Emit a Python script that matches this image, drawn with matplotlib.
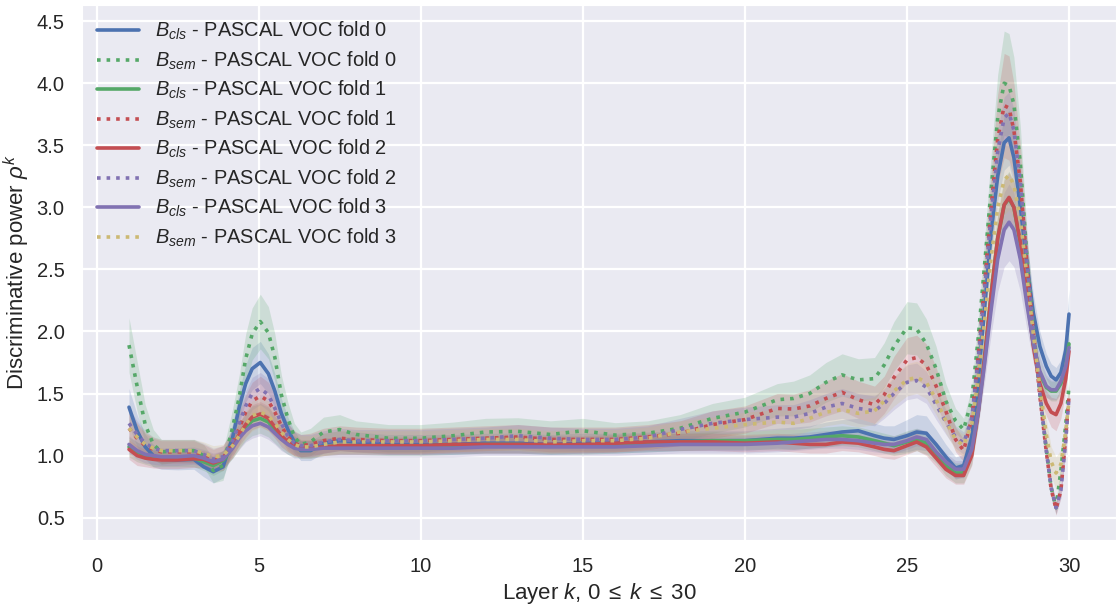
import numpy as np
import matplotlib
matplotlib.use('Agg')
import matplotlib.pyplot as plt
import seaborn as sns

sns.set_style('darkgrid')
plt.rcParams['font.family'] = ['Liberation Sans', 'DejaVu Sans']
plt.rcParams['mathtext.fontset'] = 'custom'
plt.rcParams['mathtext.rm'] = 'Liberation Sans'
plt.rcParams['mathtext.it'] = 'Liberation Sans:italic'
plt.rcParams['mathtext.bf'] = 'Liberation Sans:bold'

layers = [1, 1.25, 1.5, 1.75, 2, 2.5, 3, 3.3, 3.6, 3.9,
          4.2, 4.4, 4.6, 4.8, 5.05, 5.3, 5.5, 5.7, 5.9, 6.1,
          6.3, 6.6, 7, 7.5, 8, 9, 10, 11, 12, 13, 14, 15, 16, 17, 18,
          19, 20, 21, 21.5, 22, 22.5, 23, 23.5, 24, 24.3, 24.6, 25, 25.3, 25.6, 25.9,
          26.2, 26.5, 26.75, 27, 27.2, 27.4, 27.6, 27.8, 28, 28.15,
          28.3, 28.5, 28.7, 28.9, 29.1, 29.3, 29.45, 29.6, 29.75, 29.9, 30]

# mean discriminative power
cls_fold0 = [1.39, 1.20, 1.07, 1.00, 0.97, 0.965, 0.97, 0.91, 0.87, 0.91,
             1.15, 1.39, 1.58, 1.70, 1.75, 1.66, 1.52, 1.34, 1.21, 1.11,
             1.04, 1.04, 1.10, 1.12, 1.11, 1.09, 1.09, 1.09, 1.10, 1.10, 1.09, 1.10, 1.10, 1.11, 1.12,
             1.12, 1.12, 1.14, 1.14, 1.15, 1.17, 1.19, 1.20, 1.16, 1.14, 1.13, 1.16, 1.19, 1.18, 1.09,
             0.99, 0.90, 0.92, 1.15, 1.60, 2.20, 2.80, 3.25, 3.52, 3.56,
             3.40, 3.00, 2.55, 2.15, 1.88, 1.72, 1.64, 1.61, 1.67, 1.85, 2.14]
sem_fold0 = [1.89, 1.56, 1.25, 1.09, 1.03, 1.04, 1.04, 1.00, 0.88, 0.92,
             1.23, 1.47, 1.78, 1.98, 2.08, 1.99, 1.79, 1.49, 1.30, 1.15,
             1.09, 1.11, 1.19, 1.21, 1.17, 1.14, 1.14, 1.16, 1.19, 1.195, 1.17, 1.20, 1.165, 1.18, 1.22,
             1.30, 1.35, 1.45, 1.46, 1.50, 1.59, 1.65, 1.61, 1.62, 1.73, 1.88, 2.03, 2.02, 1.90, 1.70,
             1.44, 1.28, 1.21, 1.45, 1.95, 2.55, 3.15, 3.72, 4.00, 3.98,
             3.83, 3.35, 2.60, 2.03, 1.50, 1.05, 0.74, 0.58, 0.88, 1.25, 1.56]
cls_fold1 = [1.07, 1.03, 1.00, 0.98, 0.98, 0.98, 0.98, 0.95, 0.92, 0.96,
             1.07, 1.16, 1.23, 1.28, 1.30, 1.27, 1.21, 1.15, 1.10, 1.07,
             1.05, 1.05, 1.07, 1.08, 1.08, 1.07, 1.07, 1.08, 1.09, 1.09, 1.08, 1.08, 1.09, 1.10, 1.11,
             1.12, 1.12, 1.13, 1.13, 1.14, 1.15, 1.16, 1.15, 1.12, 1.10, 1.08, 1.11, 1.13, 1.10, 1.02,
             0.92, 0.86, 0.86, 1.02, 1.36, 1.81, 2.31, 2.75, 3.02, 3.07,
             3.00, 2.70, 2.28, 1.90, 1.66, 1.55, 1.52, 1.52, 1.58, 1.71, 1.90]
sem_fold1 = [1.22, 1.14, 1.08, 1.05, 1.03, 1.03, 1.03, 1.00, 0.96, 0.98,
             1.10, 1.22, 1.35, 1.44, 1.48, 1.44, 1.35, 1.24, 1.15, 1.10,
             1.08, 1.09, 1.12, 1.14, 1.13, 1.12, 1.12, 1.13, 1.14, 1.15, 1.13, 1.13, 1.13, 1.15, 1.18,
             1.25, 1.29, 1.38, 1.375, 1.40, 1.46, 1.51, 1.45, 1.41, 1.49, 1.63, 1.77, 1.79, 1.73, 1.56,
             1.36, 1.13, 1.04, 1.30, 1.80, 2.40, 3.00, 3.55, 3.82, 3.80,
             3.62, 3.20, 2.55, 2.00, 1.48, 1.03, 0.73, 0.57, 0.72, 1.15, 1.48]
cls_fold2 = [1.05, 1.00, 0.98, 0.97, 0.965, 0.965, 0.975, 0.97, 0.94, 0.97,
             1.08, 1.17, 1.25, 1.31, 1.335, 1.30, 1.23, 1.16, 1.11, 1.08,
             1.06, 1.06, 1.07, 1.08, 1.08, 1.08, 1.08, 1.09, 1.09, 1.09, 1.09, 1.09, 1.10, 1.11, 1.11,
             1.11, 1.10, 1.11, 1.10, 1.09, 1.09, 1.11, 1.10, 1.07, 1.05, 1.04, 1.08, 1.11, 1.07, 0.98,
             0.89, 0.84, 0.84, 1.00, 1.35, 1.80, 2.30, 2.75, 3.02, 3.08,
             3.00, 2.72, 2.30, 1.88, 1.58, 1.42, 1.35, 1.33, 1.42, 1.62, 1.84]
sem_fold2 = [1.26, 1.17, 1.10, 1.06, 1.04, 1.04, 1.04, 1.01, 0.97, 0.99,
             1.12, 1.26, 1.40, 1.50, 1.54, 1.49, 1.38, 1.26, 1.16, 1.10,
             1.08, 1.08, 1.11, 1.13, 1.12, 1.12, 1.12, 1.13, 1.14, 1.16, 1.14, 1.13, 1.13, 1.15, 1.21,
             1.26, 1.29, 1.31, 1.31, 1.34, 1.39, 1.42, 1.38, 1.36, 1.42, 1.50, 1.59, 1.605, 1.55, 1.41,
             1.27, 1.15, 1.10, 1.30, 1.78, 2.35, 2.95, 3.45, 3.72, 3.76,
             3.62, 3.20, 2.58, 2.00, 1.50, 1.04, 0.74, 0.58, 0.72, 1.12, 1.47]
cls_fold3 = [1.09, 1.04, 1.01, 1.00, 0.99, 0.99, 1.00, 0.98, 0.95, 0.97,
             1.06, 1.14, 1.20, 1.24, 1.26, 1.23, 1.18, 1.13, 1.09, 1.06,
             1.05, 1.05, 1.06, 1.06, 1.06, 1.06, 1.06, 1.06, 1.07, 1.07, 1.07, 1.07, 1.07, 1.08, 1.09,
             1.09, 1.09, 1.10, 1.11, 1.12, 1.13, 1.13, 1.12, 1.10, 1.09, 1.09, 1.12, 1.15, 1.13, 1.03,
             0.95, 0.89, 0.89, 1.05, 1.35, 1.75, 2.18, 2.58, 2.82, 2.88,
             2.82, 2.58, 2.22, 1.90, 1.68, 1.56, 1.53, 1.53, 1.60, 1.72, 1.87]
sem_fold3 = [1.22, 1.15, 1.09, 1.06, 1.04, 1.04, 1.04, 1.02, 0.99, 1.00,
             1.08, 1.16, 1.25, 1.32, 1.35, 1.32, 1.26, 1.19, 1.13, 1.09,
             1.07, 1.07, 1.09, 1.11, 1.11, 1.11, 1.11, 1.12, 1.13, 1.13, 1.11, 1.12, 1.12, 1.14, 1.19,
             1.22, 1.25, 1.27, 1.26, 1.30, 1.35, 1.37, 1.34, 1.36, 1.44, 1.52, 1.61, 1.63, 1.59, 1.45,
             1.28, 1.13, 1.08, 1.25, 1.62, 2.10, 2.60, 3.00, 3.22, 3.26,
             3.18, 2.90, 2.45, 1.98, 1.55, 1.17, 0.95, 0.86, 0.93, 1.20, 1.44]

# half width of the shaded spread around each mean
spread_cls_fold0 = [0.15, 0.13, 0.10, 0.09, 0.08, 0.08, 0.08, 0.08, 0.09, 0.09,
                    0.11, 0.13, 0.15, 0.17, 0.17, 0.16, 0.14, 0.12, 0.10, 0.09,
                    0.08, 0.08, 0.08, 0.08, 0.08, 0.08, 0.08, 0.08, 0.08, 0.08, 0.08, 0.08, 0.08, 0.08, 0.08,
                    0.08, 0.08, 0.08, 0.09, 0.09, 0.10, 0.10, 0.10, 0.10, 0.10, 0.11, 0.13, 0.14, 0.14, 0.12,
                    0.10, 0.09, 0.09, 0.10, 0.12, 0.15, 0.18, 0.20, 0.22, 0.22,
                    0.22, 0.20, 0.18, 0.15, 0.12, 0.10, 0.10, 0.10, 0.10, 0.14, 0.20]
spread_sem_fold0 = [0.22, 0.20, 0.16, 0.12, 0.10, 0.09, 0.09, 0.09, 0.10, 0.12,
                    0.15, 0.18, 0.20, 0.21, 0.22, 0.21, 0.19, 0.16, 0.13, 0.11,
                    0.10, 0.11, 0.12, 0.12, 0.11, 0.11, 0.11, 0.11, 0.11, 0.11, 0.11, 0.10, 0.10, 0.10, 0.11,
                    0.12, 0.12, 0.13, 0.14, 0.15, 0.16, 0.17, 0.17, 0.17, 0.18, 0.20, 0.21, 0.21, 0.20, 0.18,
                    0.14, 0.10, 0.09, 0.10, 0.15, 0.20, 0.28, 0.35, 0.42, 0.42,
                    0.38, 0.30, 0.22, 0.15, 0.10, 0.07, 0.06, 0.05, 0.06, 0.08, 0.10]
spread_cls_fold1 = [0.08, 0.08, 0.07, 0.07, 0.07, 0.07, 0.07, 0.07, 0.08, 0.08,
                    0.09, 0.10, 0.11, 0.12, 0.12, 0.12, 0.11, 0.10, 0.09, 0.08,
                    0.07, 0.07, 0.07, 0.07, 0.07, 0.07, 0.07, 0.07, 0.07, 0.07, 0.07, 0.07, 0.07, 0.07, 0.07,
                    0.07, 0.07, 0.08, 0.08, 0.08, 0.08, 0.08, 0.08, 0.08, 0.08, 0.08, 0.09, 0.09, 0.09, 0.08,
                    0.08, 0.08, 0.08, 0.09, 0.11, 0.14, 0.17, 0.20, 0.22, 0.22,
                    0.21, 0.19, 0.16, 0.13, 0.10, 0.08, 0.08, 0.08, 0.08, 0.10, 0.12]
spread_sem_fold1 = [0.14, 0.12, 0.10, 0.09, 0.09, 0.09, 0.09, 0.09, 0.09, 0.10,
                    0.11, 0.13, 0.14, 0.15, 0.16, 0.15, 0.14, 0.12, 0.11, 0.10,
                    0.09, 0.09, 0.10, 0.10, 0.10, 0.10, 0.10, 0.10, 0.10, 0.10, 0.10, 0.10, 0.10, 0.10, 0.10,
                    0.11, 0.11, 0.12, 0.12, 0.13, 0.14, 0.15, 0.15, 0.15, 0.15, 0.17, 0.18, 0.18, 0.17, 0.15,
                    0.12, 0.10, 0.09, 0.10, 0.15, 0.20, 0.28, 0.36, 0.42, 0.42,
                    0.38, 0.30, 0.22, 0.15, 0.10, 0.07, 0.06, 0.05, 0.06, 0.08, 0.10]
spread_cls_fold2 = [0.08, 0.08, 0.07, 0.07, 0.07, 0.07, 0.07, 0.07, 0.07, 0.07,
                    0.08, 0.09, 0.10, 0.10, 0.10, 0.10, 0.09, 0.09, 0.08, 0.08,
                    0.07, 0.07, 0.07, 0.07, 0.07, 0.07, 0.07, 0.07, 0.07, 0.07, 0.07, 0.07, 0.07, 0.07, 0.07,
                    0.07, 0.07, 0.07, 0.07, 0.07, 0.07, 0.07, 0.07, 0.07, 0.07, 0.07, 0.07, 0.07, 0.07, 0.07,
                    0.07, 0.07, 0.07, 0.08, 0.10, 0.13, 0.16, 0.18, 0.20, 0.20,
                    0.20, 0.18, 0.15, 0.12, 0.10, 0.10, 0.12, 0.13, 0.12, 0.10, 0.10]
spread_sem_fold2 = [0.12, 0.11, 0.10, 0.09, 0.09, 0.09, 0.09, 0.09, 0.09, 0.09,
                    0.10, 0.11, 0.12, 0.13, 0.13, 0.13, 0.12, 0.11, 0.10, 0.09,
                    0.09, 0.09, 0.09, 0.09, 0.09, 0.09, 0.09, 0.09, 0.09, 0.09, 0.09, 0.09, 0.09, 0.09, 0.09,
                    0.10, 0.10, 0.10, 0.10, 0.11, 0.11, 0.12, 0.12, 0.12, 0.12, 0.13, 0.14, 0.14, 0.13, 0.12,
                    0.10, 0.09, 0.09, 0.10, 0.12, 0.14, 0.16, 0.17, 0.17, 0.17,
                    0.17, 0.15, 0.13, 0.11, 0.09, 0.07, 0.06, 0.05, 0.06, 0.08, 0.10]
spread_cls_fold3 = [0.07, 0.07, 0.07, 0.07, 0.07, 0.07, 0.07, 0.07, 0.07, 0.07,
                    0.08, 0.09, 0.09, 0.10, 0.10, 0.10, 0.09, 0.09, 0.08, 0.08,
                    0.07, 0.07, 0.07, 0.07, 0.07, 0.07, 0.07, 0.07, 0.07, 0.07, 0.07, 0.07, 0.07, 0.07, 0.07,
                    0.07, 0.07, 0.07, 0.07, 0.07, 0.07, 0.07, 0.07, 0.07, 0.07, 0.07, 0.07, 0.07, 0.07, 0.07,
                    0.07, 0.07, 0.07, 0.08, 0.11, 0.15, 0.20, 0.26, 0.30, 0.31,
                    0.30, 0.26, 0.20, 0.15, 0.11, 0.09, 0.08, 0.08, 0.08, 0.08, 0.08]
spread_sem_fold3 = [0.12, 0.11, 0.10, 0.09, 0.09, 0.09, 0.09, 0.09, 0.09, 0.09,
                    0.10, 0.11, 0.11, 0.12, 0.12, 0.12, 0.11, 0.10, 0.10, 0.09,
                    0.09, 0.09, 0.09, 0.09, 0.09, 0.09, 0.09, 0.09, 0.09, 0.09, 0.09, 0.09, 0.09, 0.09, 0.09,
                    0.09, 0.10, 0.10, 0.10, 0.10, 0.11, 0.11, 0.11, 0.11, 0.12, 0.12, 0.13, 0.13, 0.13, 0.12,
                    0.10, 0.09, 0.09, 0.10, 0.13, 0.17, 0.22, 0.26, 0.28, 0.28,
                    0.27, 0.24, 0.20, 0.16, 0.13, 0.12, 0.12, 0.13, 0.12, 0.10, 0.10]

labels = [r'$B_{cls}$ - PASCAL VOC fold 0', r'$B_{sem}$ - PASCAL VOC fold 0',
          r'$B_{cls}$ - PASCAL VOC fold 1', r'$B_{sem}$ - PASCAL VOC fold 1',
          r'$B_{cls}$ - PASCAL VOC fold 2', r'$B_{sem}$ - PASCAL VOC fold 2',
          r'$B_{cls}$ - PASCAL VOC fold 3', r'$B_{sem}$ - PASCAL VOC fold 3']
means = [cls_fold0, sem_fold0, cls_fold1, sem_fold1, cls_fold2, sem_fold2, cls_fold3, sem_fold3]
spreads = [spread_cls_fold0, spread_sem_fold0, spread_cls_fold1, spread_sem_fold1,
           spread_cls_fold2, spread_sem_fold2, spread_cls_fold3, spread_sem_fold3]

blue, green, red, purple, yellow = '#4C72B0', '#55A868', '#C44E52', '#8172B2', '#CCB974'
colors = [blue, green, green, red, red, purple, purple, yellow]
styles = ['-', ':', '-', ':', '-', ':', '-', ':']

fig = plt.figure(figsize=(11.16, 6.07), dpi=100)
ax = fig.add_axes([82/1116, 67/607, 1034/1116, 535/607])

x = np.array(layers)
for m, s, c in zip(means, spreads, colors):
    m = np.array(m)
    s = np.array(s)
    ax.fill_between(x, m - s, m + s, color=c, alpha=0.2, lw=0)

for m, c, ls, lab in zip(means, colors, styles, labels):
    ax.plot(x, m, color=c, ls=ls, lw=2.6, label=lab)

ax.set_xlim(-0.45, 31.45)
ax.set_ylim(0.32, 4.63)
ax.set_xticks([0, 5, 10, 15, 20, 25, 30])
ax.set_yticks([0.5, 1.0, 1.5, 2.0, 2.5, 3.0, 3.5, 4.0, 4.5])
ax.tick_params(labelsize=14.5, colors='#262626', pad=9)
ax.grid(color='white', lw=1.6)
ax.set_xlabel(r'Layer $k$, $0 \;\leq\; k \;\leq\; 30$', fontsize=16, color='#262626')
ax.set_ylabel(r'Discriminative power $\rho^k$', fontsize=16, color='#262626')
ax.yaxis.set_label_coords(-0.048, 0.5)
ax.xaxis.set_label_coords(0.5, -0.077)

ax.legend(loc='upper left', fontsize=14.4, frameon=False, handlelength=2.1,
          labelspacing=0.36, borderaxespad=0.35)

fig.savefig('out.png', dpi=100)
